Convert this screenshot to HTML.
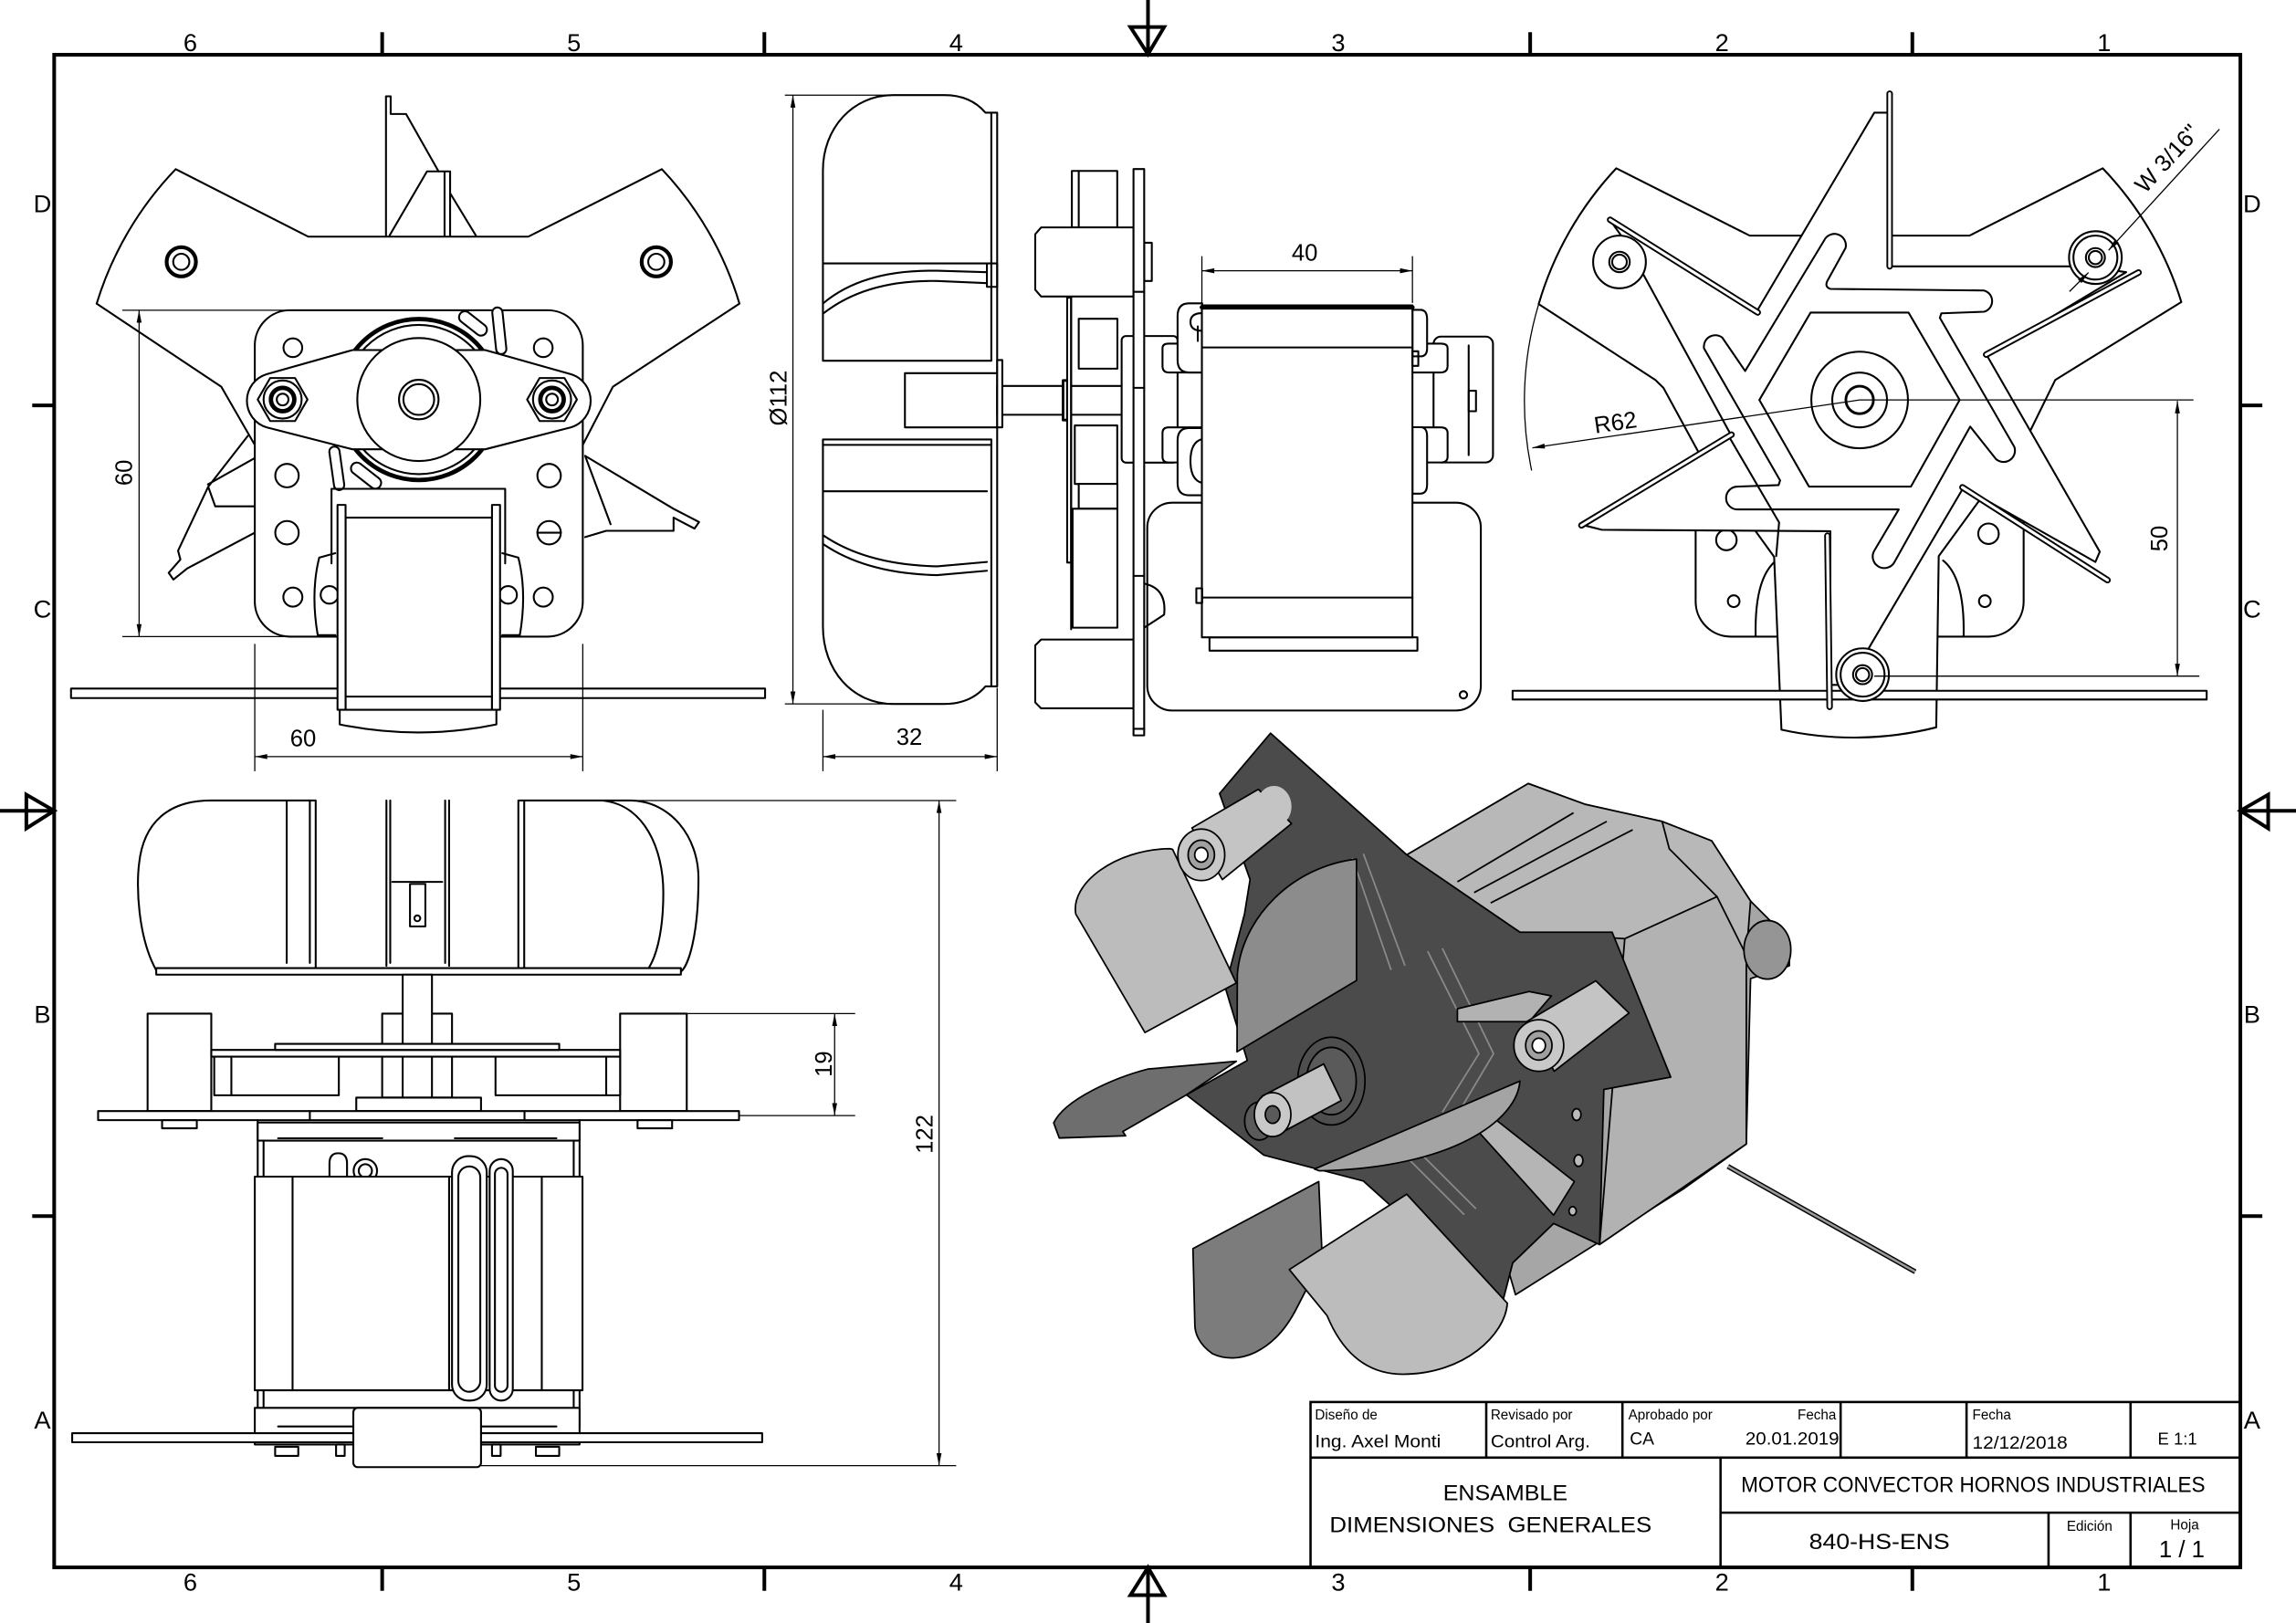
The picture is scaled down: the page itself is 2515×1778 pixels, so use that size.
<!DOCTYPE html>
<html><head><meta charset="utf-8"><style>
html,body{margin:0;padding:0;background:#fff;overflow:hidden}
svg{display:block}
.d{fill:none;stroke:#000;stroke-width:1.3;stroke-linejoin:round;stroke-linecap:round}
.t{fill:none;stroke:#000;stroke-width:0.8}
text{font-family:"Liberation Sans",sans-serif;fill:#000;stroke:none}
</style></head><body>
<svg width="2515" height="1778" viewBox="0 0 1568 1109" preserveAspectRatio="none" xmlns="http://www.w3.org/2000/svg">
<defs><marker id="ar" viewBox="0 0 10 4" refX="10" refY="2" markerWidth="9" markerHeight="3.4" markerUnits="userSpaceOnUse" orient="auto-start-reverse"><path d="M0,0L10,2L0,4Z" fill="#000"/></marker></defs>
<rect x="0" y="0" width="1568" height="1109" fill="#fff"/>

<!-- ================= FRONT VIEW (top-left) ================= -->
<g class="d">
<path d="M263.6,160.8V65.8H266.8V77.9H277.3L299.5,117.1"/>
<path d="M266.1,160.8L291.6,117.1H307.4V160.8M303.6,117.1V160.8M307.4,132L324.9,160.8"/>
<path fill="#fff" d="M120,115.6L210.5,161.7H360.8L452,115.6A229,229 0 0 1 505,207.5L418.6,264.2L398,304L174,304L151.1,264.2L66,207.5A229,229 0 0 1 120,115.6Z"/>
<circle cx="123.8" cy="178.9" r="10" stroke-width="2.6"/><circle cx="123.8" cy="178.9" r="5.5"/>
<circle cx="448.2" cy="178.9" r="10" stroke-width="2.6"/><circle cx="448.2" cy="178.9" r="5.5"/>
<path d="M169.2,297.9L142.2,332.6L147,346H174M142.2,332.6L121.6,376.3L123.2,382.3L115.2,391.4L118.4,396L127.9,388.4L174,364M142,331L174,313"/>
<path d="M399.6,311.5L460,347.7L477.4,356.7L474.3,361.2L460,353.7V362.7H414L399.6,367M399.6,311.5L417,358.2"/>
<rect x="174" y="212" width="224" height="223" rx="24" fill="#fff"/>
<circle cx="200" cy="237.6" r="6.4"/><circle cx="371" cy="237.6" r="6.4"/>
<circle cx="196" cy="325" r="8"/><circle cx="375" cy="325" r="8"/>
<circle cx="196" cy="364" r="8"/><circle cx="375" cy="364" r="8"/><path d="M367,364H383"/>
<circle cx="200" cy="408" r="6.5"/><circle cx="371" cy="408" r="6.5"/>
<circle cx="225" cy="406.5" r="6"/><circle cx="347" cy="406.5" r="6"/>
<circle cx="286" cy="273" r="55" stroke-width="3"/>
<circle cx="286" cy="273" r="51"/>
<rect x="-11" y="-4" width="22" height="8" rx="4" transform="translate(323,221) rotate(38)" fill="#fff"/>
<rect x="-3.5" y="-16" width="7" height="32" rx="3.5" transform="translate(341,226) rotate(-6)" fill="#fff"/>
<rect x="-12" y="-4" width="24" height="8" rx="4" transform="translate(250,325) rotate(38)" fill="#fff"/>
<rect x="-3.5" y="-15" width="7" height="30" rx="3.5" transform="translate(230,320) rotate(-8)" fill="#fff"/>
<path fill="#fff" d="M182,255.7L240.7,239.2H331.4L390,255.7A19,19 0 0 1 390,292L331.4,307H240.7L182,292A19,19 0 0 1 182,255.7Z"/>
<circle cx="286" cy="273" r="42" fill="#fff"/>
<circle cx="286" cy="273" r="13.5"/><circle cx="286" cy="273" r="10.5"/>
<polygon points="210,273 201.5,287.7 184.5,287.7 176,273 184.5,258.3 201.5,258.3" fill="#fff"/>
<circle cx="193" cy="273" r="13"/><circle cx="193" cy="273" r="8" stroke-width="3"/><circle cx="193" cy="273" r="4"/>
<polygon points="394,273 385.5,287.7 368.5,287.7 360,273 368.5,258.3 385.5,258.3" fill="#fff"/>
<circle cx="377" cy="273" r="13"/><circle cx="377" cy="273" r="8" stroke-width="3"/><circle cx="377" cy="273" r="4"/>
<rect x="48.5" y="470.5" width="474" height="6.5" fill="#fff"/>
<path d="M226.4,385V334H345V385"/>
<path d="M229,378L218,381Q212,405 217,434H229M343,378L354,381Q360,405 355,434H343"/>
<path fill="#fff" d="M232,480V495Q286,506 339,495V480Z"/>
<rect x="236" y="353.7" width="100" height="131.3" fill="#fff"/>
<path d="M236,476H336"/>
<rect x="230.5" y="345" width="5.5" height="140" fill="#fff"/>
<rect x="336" y="345" width="5.5" height="140" fill="#fff"/>
</g>
<g class="t">
<path d="M83.5,212H199M83.5,435H218M174,440V527M398,440V527"/>
<line x1="95" y1="212" x2="95" y2="435" marker-start="url(#ar)" marker-end="url(#ar)"/>
<line x1="174" y1="517" x2="398" y2="517" marker-start="url(#ar)" marker-end="url(#ar)"/>
</g>
<text x="207" y="510" font-size="16" text-anchor="middle">60</text>
<text transform="translate(90,323) rotate(-90)" font-size="16" text-anchor="middle">60</text>

<!-- ================= SIDE VIEW (top-middle) ================= -->
<g class="d">
<path fill="#fff" d="M562,246.5V116.4C562,88 582,65 610,65H645C658,65 667,70 673,77H677V246.5Z"/>
<path fill="#fff" d="M562,300.3H677V469H673C667,476 658,481 645,481H610C582,481 562,458 562,428Z"/>
<path d="M677,77H681V469H677M562,304H677M562,180H674M562,335.7H674"/>
<path d="M562.5,207Q590,184 640,185L674,186M562.5,214Q592,191 640,192L674,193.5"/>
<path d="M562.5,366Q592,386 640,387L674,384M562.5,372Q592,392 640,393L674,390"/>
<rect x="674" y="180" width="7" height="16"/>
<rect x="618" y="255" width="63" height="37" fill="#fff"/>
<rect x="681" y="263.7" width="48" height="19.7" fill="#fff"/>
<rect x="681" y="246" width="3.5" height="46" fill="#fff"/>
<rect x="726" y="260" width="3" height="27" fill="#fff" stroke-width="1.8"/>
<rect x="766" y="229.6" width="38.2" height="86.5" rx="3" fill="#fff"/>
<rect x="732" y="116.8" width="31" height="38.6" fill="#fff"/>
<path d="M736.7,116.8V155.4"/>
<rect x="728.8" y="203.4" width="2.7" height="181" fill="#fff"/>
<path d="M731.5,263.7H766M731.5,283.4H766M731.5,203V430"/>
<rect x="736.7" y="217.8" width="26.4" height="34.1" fill="#fff"/>
<rect x="734" y="290.7" width="29" height="40" fill="#fff"/>
<rect x="736.7" y="330.6" width="26.4" height="17" fill="#fff"/>
<rect x="732.5" y="347.6" width="30.6" height="81.3" fill="#fff"/>
<path fill="#fff" d="M711,155.4H774.1V202.6H711L707,198V160Z"/>
<path fill="#fff" d="M711,437H774.1V484H711L707,480V441Z"/>
<rect x="781.4" y="165.9" width="5.2" height="26.1" fill="#fff"/>
<rect x="783.5" y="343.5" width="227.8" height="142" rx="17" fill="#fff"/>
<circle cx="999.4" cy="474.8" r="2.5"/>
<path d="M781.4,398.8Q797,402 795,420L781.4,428.9"/>
<rect x="774.1" y="115.5" width="7.3" height="387" fill="#fff"/>
<path d="M774.1,199.4H781.4M774.1,265H781.4M774.1,393.5H781.4M774.1,498H781.4"/>
<path fill="#fff" d="M820.8,234.8H798Q793.9,234.8 793.9,238V250Q793.9,254.5 798,254.5H820.8M820.8,292H798Q793.9,292 793.9,296V312Q793.9,316 798,316H820.8"/>
<rect x="979" y="230" width="40.6" height="86" rx="5" fill="#fff"/>
<path d="M1003,236V311"/><rect x="1003" y="267" width="5" height="14"/>
<path fill="#fff" d="M964.6,234.8H984Q988.6,234.8 988.6,238V250Q988.6,254.5 984,254.5H964.6M964.6,292H984Q988.6,292 988.6,296V312Q988.6,316 984,316H964.6"/>
<path fill="#fff" d="M821,207.3H812Q804.2,207.3 804.2,216V246Q804.2,254.5 812,254.5H821Z"/>
<path d="M821,214Q813,214 813,220Q813,226 821,226M818,223V233"/>
<path fill="#fff" d="M821,292.5H812Q804.2,292.5 804.2,301V330Q804.2,338.4 812,338.4H821Z"/>
<path d="M821,300Q813,302 813,315Q813,328 821,330"/>
<path fill="#fff" d="M964.6,211.7H970Q974.6,211.7 974.6,218V238Q974.6,243.5 970,243.5H964.6Z"/>
<path fill="#fff" d="M964.6,291.9H970Q974.6,291.9 974.6,298V331Q974.6,337.3 970,337.3H964.6Z"/>
<rect x="826" y="435.5" width="142" height="9.1" fill="#fff"/>
<rect x="820.8" y="208.7" width="143.8" height="226.8" fill="#fff"/>
<path d="M820.8,210H964.6" stroke-width="3"/>
<path d="M820.8,237.4H964.6M820.8,408.3H964.6"/>
<rect x="817" y="402" width="4" height="10"/><rect x="964.6" y="240" width="4" height="10"/>
</g>
<g class="t">
<path d="M536,65H610M536,481H610M562,485V527M681,470V527M820.8,175V207M964.6,175V207"/>
<line x1="541.5" y1="65" x2="541.5" y2="481" marker-start="url(#ar)" marker-end="url(#ar)"/>
<line x1="562" y1="517" x2="681" y2="517" marker-start="url(#ar)" marker-end="url(#ar)"/>
<line x1="820.8" y1="185" x2="964.6" y2="185" marker-start="url(#ar)" marker-end="url(#ar)"/>
</g>
<text transform="translate(537,272) rotate(-90)" font-size="16" text-anchor="middle">Ø112</text>
<text x="621" y="509" font-size="16" text-anchor="middle">32</text>
<text x="891" y="178" font-size="16" text-anchor="middle">40</text>

<!-- ================= RIGHT VIEW (top-right) ================= -->
<g class="d">
<rect x="1158" y="300" width="224" height="135" rx="24" fill="#fff"/>
<circle cx="1184" cy="410.8" r="4"/><circle cx="1355.5" cy="410.8" r="4"/>
<circle cx="1179" cy="369" r="7"/><circle cx="1358" cy="364.7" r="7"/>
<path d="M1213,383Q1198,395 1199,435M1327,383Q1342,395 1341,435"/>
<path fill="#fff" d="M1103.8,115L1194.9,161H1345L1436,115A230,230 0 0 1 1489.7,206.4L1403.6,259.6L1386.7,294L1324,380L1322.3,497A230,230 0 0 1 1216.6,498.6L1211.6,380.5L1159.7,308.5L1136,265L1130.5,259.6L1050.8,207.8A230,230 0 0 1 1103.8,115Z"/>
<rect x="1033" y="472" width="474" height="6" fill="#fff"/>
<path fill="#fff" d="M1280,77L1291,77L1291,182L1425,182L1452,186L1357,243L1434,377L1431,384L1341,333L1275,445L1262,468L1250,468L1250,363L1094,362L1082,359L1182,297L1110,165L1100,151L1199,214Z"/>
<path d="M1180,297L1215,357L1213,380"/>
<circle cx="1106" cy="179" r="18" fill="#fff"/><circle cx="1106" cy="179" r="7"/><circle cx="1106" cy="179" r="5"/>
<circle cx="1431" cy="176" r="18" fill="#fff"/><circle cx="1431" cy="176" r="15"/><circle cx="1431" cy="176" r="6.5"/><circle cx="1431" cy="176" r="4.5"/>
<circle cx="1272" cy="461" r="18" fill="#fff"/><circle cx="1272" cy="461" r="15"/><circle cx="1272" cy="461" r="6.5"/><circle cx="1272" cy="461" r="4.5"/>
<path d="M1290.5,64V182M1099.6,150.2L1200.4,213.5M1460.5,186.2L1356.4,242.3M1080,359L1182.5,297M1340.2,333L1439.3,396.4M1248,366L1249.5,483" stroke-width="4.4"/>
<path d="M1290.5,64V182M1099.6,150.2L1200.4,213.5M1460.5,186.2L1356.4,242.3M1080,359L1182.5,297M1340.2,333L1439.3,396.4M1248,366L1249.5,483" stroke="#fff" stroke-width="2"/>
<polygon points="1236.5,213.6 1303.4,213.6 1338.3,273.3 1305,332.5 1235.4,332.5 1201.5,273.3"/>
<path d="M1163.7,238L1215.7,328.3L1214.6,331.5L1186.6,332.5A7.8,7.8 0 0 0 1186.6,348.1L1296.7,348.1L1280.1,376.1A7.8,7.8 0 0 0 1293.6,384.4L1345.5,291.5L1363.2,313.8A7.8,7.8 0 0 0 1375.7,305.5L1324.8,217.2L1325.8,214.1L1354.9,213A7.5,7.5 0 0 0 1354.9,198.5L1250,197.4Q1246,196 1247.9,192L1260.4,169.4A7.8,7.8 0 0 0 1245.8,164.2L1191.8,253.5L1176.2,230.7A7.8,7.8 0 0 0 1163.7,238Z"/>
<circle cx="1270" cy="273.3" r="33"/><circle cx="1270" cy="273.3" r="18.7"/><circle cx="1270" cy="273.3" r="9.4" stroke-width="1.8"/>
</g>
<g class="t">
<path d="M1270,273.3H1498M1280,462H1502"/>
<path d="M1050.8,207.8A230,230 0 0 0 1046,321.5"/>
<line x1="1487" y1="274" x2="1487" y2="462" marker-start="url(#ar)" marker-end="url(#ar)"/>
<line x1="1270" y1="273.3" x2="1046.5" y2="306" marker-end="url(#ar)"/>
<line x1="1515.7" y1="88.3" x2="1440" y2="171" marker-end="url(#ar)"/>
<line x1="1413.3" y1="199.2" x2="1426.3" y2="186.2" marker-end="url(#ar)"/>
</g>
<text transform="translate(1480,368) rotate(-90)" font-size="16" text-anchor="middle">50</text>
<text transform="translate(1104,294) rotate(-8.4)" font-size="16" text-anchor="middle">R62</text>
<text transform="translate(1484,112) rotate(-47.5)" font-size="16" text-anchor="middle">W 3/16"</text>

<!-- ================= BOTTOM-LEFT VIEW ================= -->
<g class="d">
<path fill="#fff" d="M106.7,663C94,640 93,605 95,590C98,562 115,547 144,547H215.6V663Z"/>
<path d="M195.8,547V658M211.6,547V658"/>
<path fill="#fff" d="M354,547H430C458,547 477,572 477,600C477,640 470,660 465,664H354Z"/>
<path d="M411.6,547C440,550 453,580 453,610C453,640 447,655 443.3,661M358,547V662"/>
<rect x="106.7" y="661.5" width="358.3" height="4.5" fill="#fff"/>
<path d="M263.9,547V660M306.7,547V660M266.5,547V658M304,547V658M267.9,602.6H302"/>
<rect x="280" y="604" width="10.5" height="29"/>
<circle cx="285" cy="627.5" r="2"/>
<rect x="100.8" y="692.6" width="43.5" height="66.6" fill="#fff"/>
<rect x="423.5" y="692.6" width="45.5" height="66.6" fill="#fff"/>
<rect x="261" y="692.6" width="47.7" height="57.4" fill="#fff"/>
<rect x="275" y="666" width="20" height="53" fill="#fff"/>
<rect x="144.3" y="717.4" width="279.2" height="4.6" fill="#fff"/>
<rect x="187.9" y="713.3" width="194" height="4.1" fill="#fff"/>
<rect x="146.3" y="722" width="85.1" height="26.4" fill="#fff"/>
<rect x="338.4" y="722" width="85.1" height="26.4" fill="#fff"/>
<path d="M158,722V748M414,722V748M275,722V750M295,722V750"/>
<rect x="243.3" y="750" width="85.2" height="9.2" fill="#fff"/>
<rect x="67" y="759.2" width="437.7" height="6.2" fill="#fff"/>
<path d="M211.6,759.2V765.4M358.2,759.2V765.4"/>
<rect x="110.7" y="765.4" width="23.7" height="5.6"/>
<rect x="435.4" y="765.4" width="23.6" height="5.6"/>
<path d="M176,765.4V975M180,779V975M391.8,779V975M395.8,765.4V975"/>
<rect x="176" y="767" width="219.8" height="12.4" fill="#fff"/>
<path d="M189.9,777.8H261.1M310.6,777.8H380"/>
<path d="M225,805V795Q225,788 231,788Q237,788 237,795V805"/>
<circle cx="249.5" cy="800" r="8"/><circle cx="249.5" cy="800" r="4.5"/>
<rect x="174" y="804" width="223.8" height="146" fill="#fff"/>
<path d="M199.8,804V950M306.7,804V950M346.3,804V950M370,804V950"/>
<rect x="308.7" y="790" width="23.7" height="167" rx="11" fill="#fff"/>
<rect x="313" y="797" width="15" height="154" rx="7.5"/>
<rect x="334.4" y="792" width="15.8" height="165" rx="7.9" fill="#fff"/>
<rect x="338" y="798" width="8.6" height="153" rx="4.3"/>
<rect x="174" y="962" width="221.8" height="25" fill="#fff"/>
<path d="M189.9,974.7H261.1M310.6,974.7H380"/>
<rect x="49.3" y="979.3" width="471.2" height="6.2" fill="#fff"/>
<rect x="241.3" y="962" width="87.2" height="40.5" rx="3" fill="#fff"/>
<rect x="187.9" y="988.6" width="15.8" height="6.2"/>
<rect x="366" y="988.6" width="15.9" height="6.2"/>
<rect x="229.5" y="987" width="5.9" height="7.8"/>
<rect x="336" y="987" width="5.9" height="7.8"/>
</g>
<g class="t">
<path d="M469,692.6H584M504.7,762.3H584M433.4,547H653M328.5,1001.5H653"/>
<line x1="570" y1="692.6" x2="570" y2="762.3" marker-start="url(#ar)" marker-end="url(#ar)"/>
<line x1="641.3" y1="547" x2="641.3" y2="1001.5" marker-start="url(#ar)" marker-end="url(#ar)"/>
</g>
<text transform="translate(568,727) rotate(-90)" font-size="16" text-anchor="middle">19</text>
<text transform="translate(637,775) rotate(-90)" font-size="16" text-anchor="middle">122</text>

<!-- ================= ISO VIEW ================= -->
<g stroke="#000" stroke-width="1.1" stroke-linejoin="round">
<path d="M1180,797L1308,869" stroke-width="3.4" fill="none"/>
<path d="M1180,797L1308,869" stroke="#9a9a9a" stroke-width="1.6" fill="none"/>
<polygon fill="#a6a6a6" points="960.7,584.1 1043.7,535.4 1082.2,549.5 1135.1,561.3 1169,574.6 1195.5,615.7 1222,642.2 1222,659.9 1195.5,668.7 1192.6,781.7 1150.2,812 1035,884.7 1021.8,839.3 968.9,692.2"/>
<polygon fill="#b8b8b8" points="960.7,584.1 1043.7,535.4 1082.2,549.5 1135.1,561.3 1169,574.6 1195.5,615.7 1192.6,652.8 1109.6,641.4 1038,637"/>
<path fill="none" d="M995.3,602.5L1074.6,555.4M1006.7,609.9L1097.3,561.3M1018,617L1115,567M1135.1,561.3L1140,580L1172.6,612.7"/>
<polygon fill="#b2b2b2" points="1109.6,641.4 1172.6,612.7 1192.6,652.8 1192.6,781.7 1092.4,850.4"/>
<ellipse cx="1207" cy="649" rx="16" ry="20" fill="#959595"/>
<polygon fill="#4b4b4b" points="832.9,542.2 867.7,501 960.7,584.1 1038,637 1101,637 1141,736 1095.3,744.4 1092.4,850.4 1061,836 1033.1,862.9 1025.5,892.3 931.1,807 863.1,789.3 810.3,748.1 851.8,724.6 836.7,674.6 849.9,624.6 853.7,601"/>
<path fill="none" stroke="#8a8a8a" d="M923.6,586.3L950,662.8M931.1,583.4L959.5,659.9M975,650L1010,720L985,760M985,648L1020,720L995,762M960,790L1000,830M968,786L1008,826"/>
<polygon fill="#b2b2b2" points="995.3,689.3 1044.4,677.5 1059.5,680.5 1044.4,698.1 995.3,698.1"/>
<polygon fill="#b5b5b5" points="1009.4,773 1020.8,764.5 1075.2,807.4 1061,830.3"/>
<ellipse cx="1076.7" cy="761.6" rx="3" ry="4" fill="#bbb"/><ellipse cx="1078" cy="793" rx="3" ry="4" fill="#bbb"/><ellipse cx="1074" cy="827.5" rx="2.5" ry="3" fill="#bbb"/>
<path fill="#8c8c8c" d="M844.8,718.7L845,665.8C848,627.5 882,592.2 926.4,587L926.4,670Z"/>
<path fill="#bcbcbc" d="M798.9,579.9C761.2,580.4 730.9,604 734.7,624.6L781.9,705.5L844.3,671.7L800.8,580.4Z"/>
<polygon fill="#c4c4c4" points="814,565.7 859.4,539.3 882,562.8 834.8,601"/>
<ellipse cx="870" cy="551" rx="12" ry="14" fill="#c4c4c4" stroke="none"/>
<ellipse cx="820.4" cy="584.1" rx="16" ry="17.6" fill="#c8c8c8"/>
<ellipse cx="820.4" cy="584.1" rx="9" ry="10" fill="#a0a0a0"/>
<ellipse cx="820.4" cy="584.1" rx="4.5" ry="5" fill="#fff"/>
<polygon fill="#c4c4c4" points="1042.5,698.1 1089.8,670.2 1112.5,692.2 1061.4,732"/>
<ellipse cx="1050.9" cy="714.4" rx="17" ry="17.6" fill="#c8c8c8"/>
<ellipse cx="1050.9" cy="714.4" rx="9" ry="10" fill="#a0a0a0"/>
<ellipse cx="1050.9" cy="714.4" rx="4.5" ry="5" fill="#fff"/>
<path fill="#6e6e6e" d="M719.6,767.3C727.2,751.1 761.2,736.4 783.8,730.5L844.3,725.2L810.3,748.1L766.8,773.2L768.7,776.1L723.4,777.6Z"/>
<ellipse cx="909.2" cy="738.7" rx="23" ry="30" fill="#4e4e4e"/>
<ellipse cx="909.2" cy="738.7" rx="17" ry="23" fill="#5a5a5a"/>
<polygon fill="#c2c2c2" points="862,749 904,727 916,752 875,774"/>
<ellipse cx="860" cy="766" rx="10" ry="13" fill="#5a5a5a"/>
<ellipse cx="869.1" cy="761.6" rx="12.5" ry="15" fill="#c8c8c8"/>
<ellipse cx="869.1" cy="761.6" rx="5" ry="6" fill="#5a5a5a"/>
<path fill="#a4a4a4" d="M897.7,798.8L1038,738.7C1036,765.8 991.6,798.1 900.9,800Z"/>
<path fill="#7c7c7c" d="M814.7,853.2L900.6,807.4L903,860L886,893C870,925 845,933 828,925C818,918 816,910 816,905Z"/>
<path fill="#bcbcbc" d="M880.5,867.5L960.7,816L1029.4,890.5C1028,912 1000,939 958,939C930,939 915,920 906.3,899Z"/>
</g>

<!-- ================= TITLE BLOCK ================= -->
<g fill="none" stroke="#000">
<rect x="895" y="958" width="635" height="113" fill="#fff" stroke-width="1.6"/>
<path stroke-width="1.6" d="M895,996H1530M1015,958V996M1108,958V996M1257,958V996M1343,958V996M1455,958V996M1175,996V1071M1175,1033.6H1530M1399,1033.6V1071M1455,1033.6V1071"/>
</g>
<text x="898" y="970" font-size="9.5">Diseño de</text>
<text x="898" y="989" font-size="12" textLength="86" lengthAdjust="spacingAndGlyphs">Ing. Axel Monti</text>
<text x="1018" y="970" font-size="9.5">Revisado por</text>
<text x="1018" y="989" font-size="12" textLength="68" lengthAdjust="spacingAndGlyphs">Control Arg.</text>
<text x="1112" y="970" font-size="9.5">Aprobado por</text>
<text x="1254" y="970" font-size="9.5" text-anchor="end">Fecha</text>
<text x="1113" y="987" font-size="12">CA</text>
<text x="1256" y="987" font-size="12" text-anchor="end" textLength="64" lengthAdjust="spacingAndGlyphs">20.01.2019</text>
<text x="1347" y="970" font-size="9.5">Fecha</text>
<text x="1347" y="990" font-size="12" textLength="65" lengthAdjust="spacingAndGlyphs">12/12/2018</text>
<text x="1487" y="987" font-size="11.5" text-anchor="middle">E 1:1</text>
<text x="1028" y="1025" font-size="15" text-anchor="middle" textLength="85" lengthAdjust="spacingAndGlyphs">ENSAMBLE</text>
<text x="1018" y="1047" font-size="15" text-anchor="middle" textLength="220" lengthAdjust="spacingAndGlyphs" xml:space="preserve">DIMENSIONES  GENERALES</text>
<text x="1347.5" y="1019.5" font-size="15" text-anchor="middle" textLength="317" lengthAdjust="spacingAndGlyphs">MOTOR CONVECTOR HORNOS INDUSTRIALES</text>
<text x="1283.5" y="1058.5" font-size="15" text-anchor="middle" textLength="96" lengthAdjust="spacingAndGlyphs">840-HS-ENS</text>
<text x="1427" y="1046" font-size="9.5" text-anchor="middle">Edición</text>
<text x="1492" y="1045" font-size="9.5" text-anchor="middle">Hoja</text>
<text x="1490" y="1064" font-size="16" text-anchor="middle">1 / 1</text>

<!-- ================= BORDER ================= -->
<g fill="none" stroke="#000" stroke-width="2.5">
<rect x="37" y="37.4" width="1493" height="1033.6"/>
<path d="M261,22V37M522,22V37M1045,22V37M1306,22V37M261,1071V1087M522,1071V1087M1045,1071V1087M1306,1071V1087M22,277H37M22,831H37M1530,277H1545M1530,831H1545"/>
<path d="M784,0V37M784,1071V1109M0,554H37M1530,554H1568"/>
<polygon points="772,18.5 795,18.5 784,37"/>
<polygon points="772,1090 795,1090 784,1071"/>
<polygon points="18,543 18,566 37,554"/>
<polygon points="1549,543 1549,566 1530,554"/>
</g>
<g font-size="17" text-anchor="middle">
<text x="130" y="35">6</text><text x="392" y="35">5</text><text x="653" y="35">4</text><text x="914" y="35">3</text><text x="1176" y="35">2</text><text x="1437" y="35">1</text>
<text x="130" y="1087">6</text><text x="392" y="1087">5</text><text x="653" y="1087">4</text><text x="914" y="1087">3</text><text x="1176" y="1087">2</text><text x="1437" y="1087">1</text>
<text x="29" y="145">D</text><text x="29" y="422">C</text><text x="29" y="699">B</text><text x="29" y="976">A</text>
<text x="1538" y="145">D</text><text x="1538" y="422">C</text><text x="1538" y="699">B</text><text x="1538" y="976">A</text>
</g>
</svg>
</body></html>
